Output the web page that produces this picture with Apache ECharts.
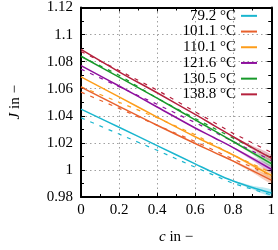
<!DOCTYPE html>
<html><head><meta charset="utf-8">
<script src="https://cdn.jsdelivr.net/npm/echarts@6/dist/echarts.min.js"></script>
<style>html,body{margin:0;padding:0;background:#fff}#c{width:278px;height:250px}</style>
</head><body><div id="c"></div>
<script>
const labels = ['79.2 °C', '101.1 °C', '110.1 °C', '121.6 °C', '130.5 °C', '138.8 °C'];
const colors = ['#1ab6cf', '#e8602c', '#fd9d1a', '#8e0f9e', '#17992a', '#b5213d'];

// model (solid) curves
const cSolid = [0, 0.2, 0.4, 0.6, 0.7, 0.8, 0.9, 1];
const solid79 = [1.0449, 1.0315, 1.0180, 1.0045, 0.9978, 0.9918, 0.9870, 0.9830];
const solid101 = [1.0612, 1.0470, 1.0330, 1.0195, 1.0130, 1.0065, 0.9995, 0.9925];
const solid110 = [1.0687, 1.0540, 1.0390, 1.0245, 1.0178, 1.0110, 1.0035, 0.9960];
const solid121 = [1.0770, 1.0620, 1.0465, 1.0310, 1.0238, 1.0165, 1.0085, 1.0005];
const solid130 = [1.0840, 1.0685, 1.0530, 1.0370, 1.0290, 1.0210, 1.0128, 1.0047];
const solid138 = [1.0890, 1.0725, 1.0570, 1.0410, 1.0328, 1.0245, 1.0165, 1.0087];

// measured (dashed) curves
const cDash = [0, 0.2, 0.4, 0.6, 0.8, 1];
const dash79 = [1.0385, 1.0265, 1.0145, 1.0020, 0.9900, 0.9815];
const dash101 = [1.0575, 1.0455, 1.0330, 1.0210, 1.0080, 0.9960];
const dash110 = [1.0615, 1.0500, 1.0385, 1.0260, 1.0110, 0.9980];
const dash121 = [1.0745, 1.0615, 1.0485, 1.0350, 1.0210, 1.0070];
const dash130 = [1.0840, 1.0700, 1.0530, 1.0380, 1.0235, 1.0090];
const dash138 = [1.0875, 1.0735, 1.0590, 1.0430, 1.0270, 1.0130];

// uncertainty band near c = 1
const bandC = [0.8, 0.9, 1];
const bandHalf = [0.0004, 0.0013, 0.0025];

const solids = [solid79, solid101, solid110, solid121, solid130, solid138];
const dashes = [dash79, dash101, dash110, dash121, dash130, dash138];

const font = 'Liberation Serif';
const series = [];
solids.forEach((s, k) => {
  const centers = bandC.map(c => s[cSolid.indexOf(c)]);
  series.push({
    type: 'custom', silent: true, z: 1,
    data: bandC.map((c, i) => [c, centers[i]]),
    renderItem: (params, api) => {
      if (params.dataIndex !== 0) return;
      const up = bandC.map((c, i) => api.coord([c, centers[i] + bandHalf[i]]));
      const lo = bandC.map((c, i) => api.coord([c, centers[i] - bandHalf[i]])).reverse();
      return { type: 'polygon', shape: { points: up.concat(lo), smooth: 0.3 }, style: { fill: colors[k], opacity: 0.3 } };
    }
  });
});
dashes.forEach((d, k) => {
  series.push({
    type: 'line', name: labels[k] + ' meas', symbol: 'none', silent: true, z: 2,
    data: cDash.map((c, i) => [c, d[i]]),
    lineStyle: { color: colors[k], width: 1.2, type: [4, 6] }
  });
});
solids.forEach((s, k) => {
  series.push({
    type: 'line', name: labels[k], symbol: 'none', silent: true, z: 3, smooth: 0.4,
    data: cSolid.map((c, i) => [c, s[i]]),
    color: colors[k],
    lineStyle: { color: colors[k], width: 1.5 }
  });
});

const tickStyle = { show: true, inside: true, length: 4, lineStyle: { color: '#000', width: 1 } };
const minorStyle = { show: true, splitNumber: 2, length: 3, lineStyle: { color: '#000', width: 1 } };
const lineAx = { show: true, onZero: false, lineStyle: { color: '#000', width: 2 } };
const gridLine = { show: true, lineStyle: { color: '#a0a0a0', type: [1.5, 3], width: 1 } };

const chart = echarts.init(document.getElementById('c'), null, { renderer: 'canvas' });
chart.setOption({
  animation: false,
  backgroundColor: '#fff',
  grid: { left: 73, right: 5, top: 6, bottom: 44, containLabel: false },
  legend: {
    data: labels, orient: 'vertical', right: 21, top: 8, padding: 0,
    align: 'right', icon: 'rect', itemWidth: 16, itemHeight: 2, itemGap: 0,
    textStyle: { fontFamily: font, fontSize: 15, color: '#000', lineHeight: 15.7 }
  },
  xAxis: [{
    type: 'value', min: 0, max: 1, interval: 0.2, position: 'bottom',
    axisLine: lineAx, axisTick: tickStyle, minorTick: minorStyle, splitLine: gridLine,
    axisLabel: { fontFamily: font, fontSize: 15, color: '#000', margin: 6 },
    name: '{i|c} in −', nameLocation: 'middle', nameGap: 33,
    nameTextStyle: { fontFamily: font, fontSize: 15, color: '#000', rich: { i: { fontStyle: 'italic', fontFamily: font, fontSize: 15 } } }
  }, {
    type: 'value', min: 0, max: 1, interval: 0.2, position: 'top',
    axisLine: lineAx, axisTick: tickStyle, minorTick: minorStyle,
    axisLabel: { show: false }, splitLine: { show: false }
  }],
  yAxis: [{
    type: 'value', min: 0.98, max: 1.12, interval: 0.02, position: 'left',
    axisLine: lineAx, axisTick: tickStyle, minorTick: minorStyle, splitLine: gridLine,
    axisLabel: { fontFamily: font, fontSize: 15, color: '#000', margin: 8 },
    name: '{i|J} in −', nameLocation: 'middle', nameGap: 58, nameRotate: 90,
    nameTextStyle: { fontFamily: font, fontSize: 15, color: '#000', rich: { i: { fontStyle: 'italic', fontFamily: font, fontSize: 15 } } }
  }, {
    type: 'value', min: 0.98, max: 1.12, interval: 0.02, position: 'right',
    axisLine: lineAx, axisTick: tickStyle, minorTick: minorStyle,
    axisLabel: { show: false }, splitLine: { show: false }
  }],
  series: series
});
</script>
</body></html>
